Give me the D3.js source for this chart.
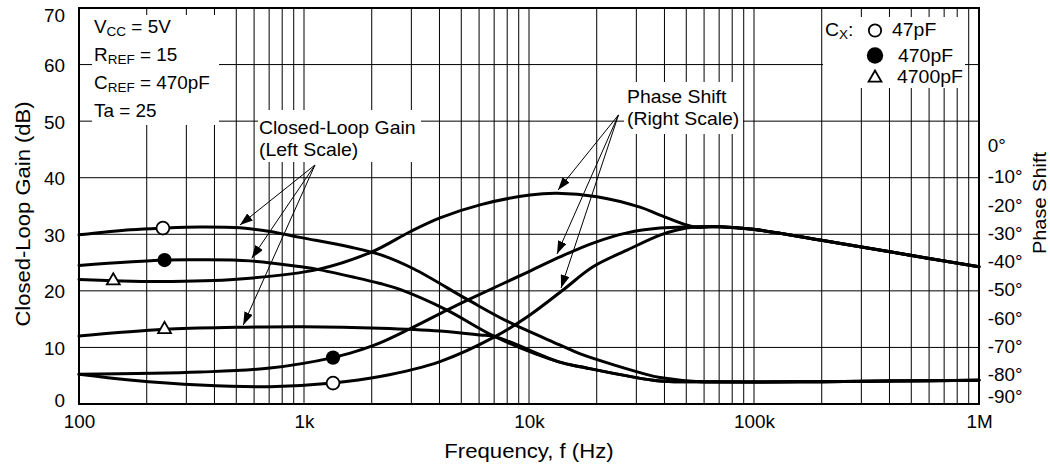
<!DOCTYPE html>
<html><head><meta charset="utf-8">
<script src="https://cdn.jsdelivr.net/npm/d3@7"></script>
<style>
html,body{margin:0;padding:0;background:#fff;}
svg{display:block;}
</style></head><body>
<svg id="chart" width="1050" height="469"></svg>
<script>
// ---------- data ----------
const freqTicks = [100, 1000, 10000, 100000, 1000000];
const freqTickLabels = ["100", "1k", "10k", "100k", "1M"];
const gainTicks = [0, 10, 20, 30, 40, 50, 60, 70];
const phaseTicks = [0, -10, -20, -30, -40, -50, -60, -70, -80, -90];

const seriesNames = ["47pF", "470pF", "4700pF"];

// closed-loop gain (dB), left scale
const gain47 = [[100,29.9],[170,30.8],[236,31.1],[345,31.3],[520,31.15],[706,30.5],[960,29.45],[1600,27.75],[2180,26.4],[3050,23.95],[5360,18.4],[8070,14.55],[13700,10.45],[16900,8.85],[33500,5.2],[38200,4.7],[57500,3.95]];
const gain470 = [[100,24.5],[240,25.45],[345,25.5],[575,25.3],[990,24.2],[1150,23.8],[1650,22.45],[2180,21.3],[2670,20.25],[4320,16.6],[7060,11.9],[13700,7.4],[16900,6.6],[38200,4.05],[57500,3.95]];
const gain4700 = [[100,12.0],[240,13.2],[500,13.55],[990,13.65],[2180,13.4],[4020,12.9],[6060,12.2],[7060,11.9],[13700,7.4],[16900,6.6],[38200,4.05],[57500,3.95]];
const gainTail = [[57500,3.95],[100000,3.9],[200000,3.95],[400000,4.05],[1000000,4.2]];

// phase shift (deg), right scale
const phase47 = [[100,-79.5],[168,-81.5],[345,-83.3],[706,-83.9],[1346,-82.6],[2177,-80.3],[4021,-75.0],[7062,-66.2],[10100,-58.5],[14160,-49.7],[19250,-41.5],[27270,-35.6],[38200,-30.3],[45470,-28.5],[54000,-27.4]];
const phase470 = [[100,-79.5],[345,-78.7],[706,-77.3],[1346,-73.6],[1700,-71.4],[2177,-68.4],[2959,-63.4],[4321,-56.8],[5356,-53.2],[10100,-43.0],[13730,-38.0],[19250,-33.1],[27270,-29.5],[38200,-27.8],[54000,-27.4]];
const phase4700 = [[100,-46.0],[142,-46.4],[229,-46.7],[502,-45.9],[1154,-42.4],[2005,-36.2],[2959,-29.1],[4021,-24.2],[6056,-19.6],[10100,-16.1],[13320,-15.5],[20060,-16.7],[31140,-20.4],[38200,-23.2],[54000,-27.4]];
const phaseTail = [[54000,-27.4],[70600,-27.3],[99000,-28.2],[196500,-32.0],[402000,-36.2],[1000000,-41.5]];

// markers placed on the curves
const gainMarkerPts = [[236,31.1],[240,25.45],[240,13.2]];
const phaseMarkerPts = [[1346,-82.6],[1346,-73.6],[142,-46.4]];

// annotation arrows (freq, dB on left scale)
const gainArrowFrom = [1119, 42.25];
const gainArrowTo = [[519,31.64],[586,25.76],[537,13.97]];
const phaseArrowFrom = [24990, 51.1];
const phaseArrowTo = [[13460,37.83],[13320,26.52],[13880,20.5]];

const conditionLines = [["V","CC"," = 5V"],["R","REF"," = 15"],["C","REF"," = 470pF"],["Ta = 25","",""]];
const gainNote = ["Closed-Loop Gain","(Left Scale)"];
const phaseNote = ["Phase Shift","(Right Scale)"];

// ---------- setup ----------
const FONT = '"Liberation Sans", Arial, Helvetica, sans-serif';
const SX = 1.08;
const svg = d3.select("#chart").attr("font-family", FONT);
const x = d3.scaleLog().domain([100, 1e6]).range([79, 979]);
const yL = d3.scaleLinear().domain([0, 70]).range([404, 8]);
const yR = d3.scaleLinear().domain([-90, 0]).range([yL(0), yL(45)]);

// grid
const gridF = [];
for (let d = 100; d < 1e6; d *= 10) for (let k = 1; k < 10; k++) gridF.push(d * k);
gridF.push(1e6);
const grid = svg.append("g").attr("stroke", "#000").attr("stroke-width", 1);
grid.selectAll("line.v").data(gridF).join("line").attr("class","v")
  .attr("x1", d => x(d)).attr("x2", d => x(d)).attr("y1", yL(70)).attr("y2", yL(0));
grid.selectAll("line.h").data(gainTicks).join("line").attr("class","h")
  .attr("x1", x(100)).attr("x2", x(1e6)).attr("y1", d => yL(d)).attr("y2", d => yL(d));

// white boxes behind text blocks
const boxes = [[92,15,219,125],[258,110,421,162],[624,82,743,134],[823,17,965,88]];
svg.append("g").selectAll("rect").data(boxes).join("rect")
  .attr("x", d => d[0]).attr("y", d => d[1]).attr("width", d => d[2]-d[0]).attr("height", d => d[3]-d[1])
  .attr("fill", "#fff");

// curves
const lineL = d3.line().x(d => x(d[0])).y(d => yL(d[1])).curve(d3.curveCatmullRom.alpha(0.5));
const lineR = d3.line().x(d => x(d[0])).y(d => yR(d[1])).curve(d3.curveCatmullRom.alpha(0.5));
const curves = svg.append("g").attr("fill", "none").attr("stroke", "#000").attr("stroke-width", 3)
  .attr("stroke-linejoin", "round").attr("stroke-linecap", "round");
[gain47, gain470, gain4700].forEach(s => curves.append("path").attr("d", lineL(s.concat(gainTail.slice(1)))));
[phase47, phase470, phase4700].forEach(s => curves.append("path").attr("d", lineR(s.concat(phaseTail.slice(1)))));

// markers
const symTri = d3.symbol(d3.symbolTriangle, 72);
function drawMarker(g, i, cx, cy, big) {
  if (i === 0) g.append("path").attr("d", d3.symbol(d3.symbolCircle, big ? 120 : 130)()).attr("transform", `translate(${cx},${cy})`).attr("fill", "#fff").attr("stroke", "#000").attr("stroke-width", 1.8);
  else if (i === 1) g.append("path").attr("d", d3.symbol(d3.symbolCircle, big ? 210 : 160)()).attr("transform", `translate(${cx},${cy})`).attr("fill", "#000");
  else g.append("path").attr("d", symTri()).attr("transform", `translate(${cx},${cy})`).attr("fill", "#fff").attr("stroke", "#000").attr("stroke-width", 1.8);
}
const mk = svg.append("g");
gainMarkerPts.forEach((p, i) => drawMarker(mk, i, x(p[0]), yL(p[1])));
phaseMarkerPts.forEach((p, i) => drawMarker(mk, i, x(p[0]), yR(p[1])));

// arrows
const defs = svg.append("defs");
defs.append("marker").attr("id", "ah").attr("viewBox", "0 0 13 9").attr("refX", 13).attr("refY", 4.5)
  .attr("markerWidth", 13).attr("markerHeight", 9).attr("markerUnits", "userSpaceOnUse").attr("orient", "auto")
  .append("path").attr("d", "M0,0L13,4.5L0,9Z").attr("fill", "#000");
const arr = svg.append("g").attr("stroke", "#000").attr("stroke-width", 1);
gainArrowTo.forEach(t => arr.append("line").attr("x1", x(gainArrowFrom[0])).attr("y1", yL(gainArrowFrom[1]))
  .attr("x2", x(t[0])).attr("y2", yL(t[1])).attr("marker-end", "url(#ah)"));
phaseArrowTo.forEach(t => arr.append("line").attr("x1", x(phaseArrowFrom[0])).attr("y1", yL(phaseArrowFrom[1]))
  .attr("x2", x(t[0])).attr("y2", yL(t[1])).attr("marker-end", "url(#ah)"));

// plot frame
svg.append("rect").attr("x", x(100)).attr("y", yL(70)).attr("width", x(1e6) - x(100)).attr("height", yL(0) - yL(70))
  .attr("fill", "none").attr("stroke", "#000").attr("stroke-width", 2);

// ---------- axes ----------
function styleTicks(g, size) {
  g.select(".domain").remove();
  g.selectAll("text").attr("font-size", size).attr("font-family", FONT).attr("fill", "#000")
    .attr("transform", `scale(${SX},1)`);
}
svg.append("g").attr("transform", `translate(0,${yL(0)})`)
  .call(d3.axisBottom(x).tickValues(freqTicks).tickFormat((d, i) => freqTickLabels[i]).tickSize(0).tickPadding(12))
  .call(g => styleTicks(g, 17.5));
svg.append("g").attr("transform", `translate(${x(100)},0)`)
  .call(d3.axisLeft(yL).tickValues(gainTicks).tickFormat(d => String(d)).tickSize(0).tickPadding(13))
  .call(g => styleTicks(g, 17.5))
  .call(g => g.selectAll("text").attr("y", d => d === 70 ? 7.5 : (d === 0 ? -3 : 1.5)));
svg.append("g").attr("transform", `translate(${x(1e6)},0)`)
  .call(d3.axisRight(yR).tickValues(phaseTicks).tickFormat(d => d + "°").tickSize(0).tickPadding(8))
  .call(g => styleTicks(g, 17.5))
  .call(g => g.selectAll("text").attr("y", d => d === 0 ? -3.5 : (d === -90 ? -7 : -0.5)));

// ---------- texts ----------
function label(x0, y0, parts, size, opts = {}) {
  const rot = opts.rot ? ` rotate(${opts.rot})` : "";
  const g = svg.append("g").attr("transform", `translate(${x0},${y0})${rot} scale(${SX},1)`);
  const t = g.append("text").attr("font-size", size).attr("text-anchor", opts.anchor || "start").attr("fill", "#000");
  if (typeof parts === "string") { t.text(parts); return t; }
  const sub = opts.sub || size * 0.7;
  t.append("tspan").text(parts[0]);
  if (parts[1]) t.append("tspan").attr("font-size", sub).attr("dy", 3).text(parts[1]);
  if (parts[2]) t.append("tspan").attr("dy", parts[1] ? -3 : 0).text(parts[2]);
  return t;
}
label(529, 458, "Frequency, f (Hz)", 20.5, { anchor: "middle" });
label(30, 214, "Closed-Loop Gain (dB)", 20.4, { anchor: "middle", rot: -90 });
label(1046, 203, "Phase Shift", 18.5, { anchor: "middle", rot: -90 });

conditionLines.forEach((p, i) => label(94, 33.3 + i * 27.8, p, 17.5, { sub: 12.5 }));

gainNote.forEach((s, i) => label(259, 134 + i * 22, s, 18));
phaseNote.forEach((s, i) => label(627, 103 + i * 22, s, 18));

// legend
label(825, 36, ["C", "X", ":"], 18, { sub: 12.5 });
const legendY = [30.5, 55.5, 78];
const legendTextX = [892, 898, 897];
const legendBase = [36, 62, 83];
seriesNames.forEach((s, i) => {
  drawMarker(svg, i, 875, legendY[i], true);
  label(legendTextX[i], legendBase[i], s, 18);
});
</script>
</body></html>
